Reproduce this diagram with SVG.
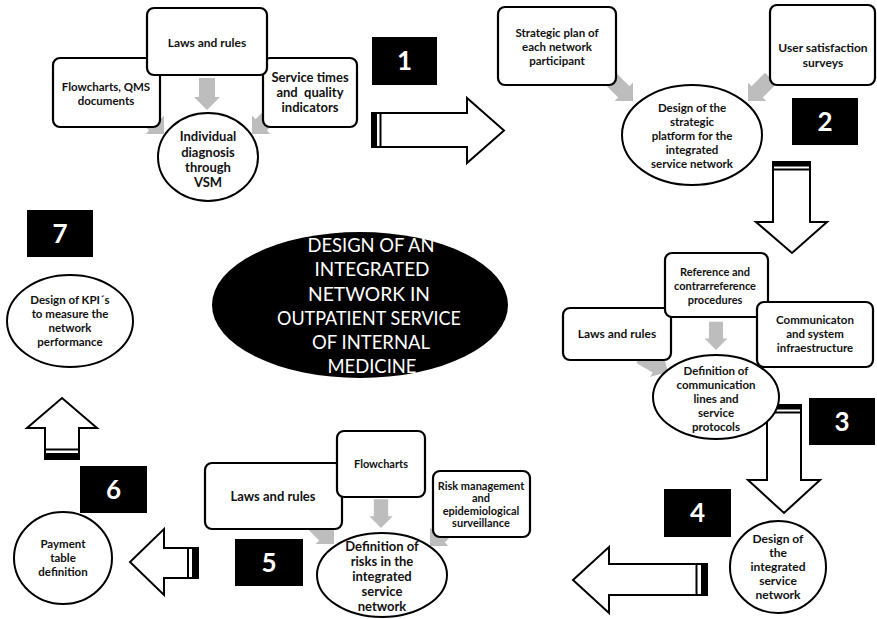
<svg xmlns="http://www.w3.org/2000/svg" xmlns:xlink="http://www.w3.org/1999/xlink" width="877" height="619" viewBox="0 0 877 619">
  <style>
    text { font-family: Lato, "Liberation Sans", Arial, sans-serif; font-weight: bold; fill: #111; text-anchor: middle; }
    .box { fill: #fff; stroke: #000; stroke-width: 2.2; }
    .oval { fill: #fff; stroke: #000; stroke-width: 2; }
    .badge { fill: #000; }
    .num { fill: #fff; font-size: 26px; }
    .big { fill: #fff; stroke: #000; stroke-width: 2; stroke-linejoin: miter; }
    .band { fill: #000; }
    .bandline { stroke: #000; stroke-width: 2; }
    .grey { fill: #bdbdbd; }
    .title { fill: #fff; font-size: 19px; font-weight: normal; }
  </style>
  <defs>
    <!-- small grey feed arrow, tip at origin, pointing down -->
    <path id="feed" class="grey" d="M-8,-32 H8 V-13 H13 L0,0 L-13,-13 H-8 Z"/>
  </defs>
  <rect width="877" height="619" fill="#fff"/>

  <g id="connectors">
    <!-- grey feed arrows (drawn beneath the boxes) -->
    <use xlink:href="#feed" transform="translate(207,110)"/>
    <use xlink:href="#feed" transform="translate(164,134) rotate(-45)"/>
    <use xlink:href="#feed" transform="translate(252,134) rotate(45)"/>
    <use xlink:href="#feed" transform="translate(633,101) rotate(-45)"/>
    <use xlink:href="#feed" transform="translate(748,101) rotate(45)"/>
    <use xlink:href="#feed" transform="translate(716,350) scale(0.88)"/>
    <use xlink:href="#feed" transform="translate(668,372) rotate(-60)"/>
    <use xlink:href="#feed" transform="translate(381,528) scale(0.9)"/>
    <use xlink:href="#feed" transform="translate(334,544) rotate(-45)"/>
    <use xlink:href="#feed" transform="translate(430,546) rotate(45)"/>

    <!-- step 1 -> 2 -->
    <path class="big" d="M372,113 H467 V98 L504,130.5 L467,163 V147 H372 Z"/>
    <rect class="band" x="372" y="113" width="5" height="34"/>
    <line class="bandline" x1="380.5" y1="113" x2="380.5" y2="147"/>
    <!-- step 2 -> 3 -->
    <path class="big" d="M773,162 H810 V222 H827 L792,253 L756,222 H773 Z"/>
    <rect class="band" x="773" y="162" width="37" height="4.5"/>
    <line class="bandline" x1="773" y1="169.5" x2="810" y2="169.5"/>
    <!-- step 3 -> 4 -->
    <path class="big" d="M767,405 H801 V480 H820 L784,513 L748,480 H767 Z"/>
    <rect class="band" x="767" y="405" width="34" height="4.5"/>
    <line class="bandline" x1="767" y1="412.5" x2="801" y2="412.5"/>
    <!-- step 4 -> 5 -->
    <path class="big" d="M707,564 V595 H609 V613 L573,580 L609,547 V564 Z"/>
    <rect class="band" x="701" y="564" width="6" height="31"/>
    <line class="bandline" x1="696.5" y1="564" x2="696.5" y2="595"/>
    <!-- step 5 -> 6 -->
    <path class="big" d="M198,548 V578 H164 V595 L130,562 L164,529 V548 Z"/>
    <rect class="band" x="192" y="548" width="6" height="30"/>
    <line class="bandline" x1="188" y1="548" x2="188" y2="578"/>
    <!-- step 6 -> 7 -->
    <path class="big" d="M45,459 H79 V428 H97 L62,398 L27,428 H45 Z"/>
    <rect class="band" x="45" y="453" width="34" height="6"/>
    <line class="bandline" x1="45" y1="449.5" x2="79" y2="449.5"/>
  </g>

  <!-- step 1 -->
  <g id="flowcharts-qms">
    <rect class="box" x="53" y="58" width="107" height="69" rx="7"/>
    <text font-size="11.5" x="106" y="91">Flowcharts, QMS</text>
    <text font-size="11.5" x="106" y="105">documents</text>
  </g>
  <g id="service-times">
    <rect class="box" x="263" y="58" width="94" height="69" rx="7"/>
    <text font-size="13" x="310" y="82">Service times</text>
    <text font-size="13" x="310" y="97" xml:space="preserve">and  quality</text>
    <text font-size="13" x="310" y="112">indicators</text>
  </g>
  <g id="laws-1">
    <rect class="box" x="147" y="8" width="120" height="67" rx="7"/>
    <text font-size="12" x="207" y="47">Laws and rules</text>
  </g>
  <g id="individual-diagnosis">
    <ellipse class="oval" cx="208" cy="157" rx="50" ry="44"/>
    <text font-size="13" x="208" y="141">Individual</text>
    <text font-size="13" x="208" y="157">diagnosis</text>
    <text font-size="13" x="208" y="172">through</text>
    <text font-size="13" x="208" y="187">VSM</text>
  </g>
  <g id="badge-1">
    <rect class="badge" x="372" y="37" width="65" height="48"/>
    <text class="num" x="404.5" y="70">1</text>
  </g>

  <!-- step 2 -->
  <g id="strategic-plan">
    <rect class="box" x="498" y="7" width="118" height="78" rx="7"/>
    <text font-size="11.5" x="557" y="37">Strategic plan of</text>
    <text font-size="11.5" x="557" y="51">each network</text>
    <text font-size="11.5" x="557" y="65">participant</text>
  </g>
  <g id="user-satisfaction">
    <rect class="box" x="770" y="5" width="105" height="80" rx="7"/>
    <text font-size="12" x="823" y="52">User satisfaction</text>
    <text font-size="12" x="823" y="67">surveys</text>
  </g>
  <g id="strategic-platform">
    <ellipse class="oval" cx="692" cy="135" rx="70" ry="50"/>
    <text font-size="11.5" x="692" y="112">Design of the</text>
    <text font-size="11.5" x="692" y="126">strategic</text>
    <text font-size="11.5" x="692" y="140">platform for the</text>
    <text font-size="11.5" x="692" y="154">integrated</text>
    <text font-size="11.5" x="692" y="168">service network</text>
  </g>
  <g id="badge-2">
    <rect class="badge" x="792" y="98" width="66" height="47"/>
    <text class="num" x="825" y="131">2</text>
  </g>

  <!-- central theme -->
  <g id="central-theme">
    <ellipse cx="360" cy="305" rx="148" ry="73" fill="#000"/>
    <text class="title" x="371" y="252" textLength="127" lengthAdjust="spacingAndGlyphs">DESIGN OF AN</text>
    <text class="title" x="372" y="276" textLength="115" lengthAdjust="spacingAndGlyphs">INTEGRATED</text>
    <text class="title" x="369" y="301" textLength="122" lengthAdjust="spacingAndGlyphs">NETWORK IN</text>
    <text class="title" x="369" y="325" textLength="184" lengthAdjust="spacingAndGlyphs">OUTPATIENT SERVICE</text>
    <text class="title" x="371" y="349" textLength="118" lengthAdjust="spacingAndGlyphs">OF INTERNAL</text>
    <text class="title" x="372" y="373" textLength="89" lengthAdjust="spacingAndGlyphs">MEDICINE</text>
  </g>

  <!-- step 3 -->
  <g id="laws-3">
    <rect class="box" x="563" y="308" width="108" height="52" rx="7"/>
    <text font-size="12" x="617" y="338">Laws and rules</text>
  </g>
  <g id="reference-procedures">
    <rect class="box" x="665" y="253" width="103" height="64" rx="7"/>
    <text font-size="11" x="715" y="276">Reference and</text>
    <text font-size="11" x="715" y="290">contrarreference</text>
    <text font-size="11" x="715" y="304">procedures</text>
  </g>
  <g id="communication-infrastructure">
    <rect class="box" x="757" y="302" width="116" height="65" rx="7"/>
    <text font-size="11.5" x="815" y="324">Communicaton</text>
    <text font-size="11.5" x="815" y="338">and system</text>
    <text font-size="11.5" x="815" y="352">infraestructure</text>
  </g>
  <g id="communication-lines">
    <ellipse class="oval" cx="716" cy="397" rx="63" ry="42"/>
    <text font-size="11.5" x="716" y="375">Definition of</text>
    <text font-size="11.5" x="716" y="389">communication</text>
    <text font-size="11.5" x="716" y="403">lines and</text>
    <text font-size="11.5" x="716" y="417">service</text>
    <text font-size="11.5" x="716" y="431">protocols</text>
  </g>
  <g id="badge-3">
    <rect class="badge" x="809" y="398" width="66" height="47"/>
    <text class="num" x="842" y="431">3</text>
  </g>

  <!-- step 4 -->
  <g id="badge-4">
    <rect class="badge" x="664" y="489" width="67" height="48"/>
    <text class="num" x="697.5" y="522">4</text>
  </g>
  <g id="integrated-network-design">
    <ellipse class="oval" cx="778" cy="567" rx="48" ry="46"/>
    <text font-size="12" x="778" y="543">Design of</text>
    <text font-size="12" x="778" y="557">the</text>
    <text font-size="12" x="778" y="571">integrated</text>
    <text font-size="12" x="778" y="585">service</text>
    <text font-size="12" x="778" y="599">network</text>
  </g>

  <!-- step 5 -->
  <g id="laws-5">
    <rect class="box" x="205" y="463" width="137" height="66" rx="7"/>
    <text font-size="13" x="273" y="501">Laws and rules</text>
  </g>
  <g id="flowcharts-5">
    <rect class="box" x="337" y="431" width="88" height="66" rx="7"/>
    <text font-size="11" x="381" y="468">Flowcharts</text>
  </g>
  <g id="risk-management">
    <rect class="box" x="433" y="471" width="97" height="66" rx="7"/>
    <text font-size="11" x="481" y="490">Risk management</text>
    <text font-size="11" x="481" y="502">and</text>
    <text font-size="11" x="481" y="515">epidemiological</text>
    <text font-size="11" x="481" y="527">surveillance</text>
  </g>
  <g id="risk-definition">
    <ellipse class="oval" cx="382" cy="575" rx="65" ry="42"/>
    <text font-size="13" x="382" y="551">Definition of</text>
    <text font-size="13" x="382" y="566">risks in the</text>
    <text font-size="13" x="382" y="581">integrated</text>
    <text font-size="13" x="382" y="596">service</text>
    <text font-size="13" x="382" y="611">network</text>
  </g>
  <g id="badge-5">
    <rect class="badge" x="235" y="539" width="68" height="47"/>
    <text class="num" x="269" y="572">5</text>
  </g>

  <!-- step 6 -->
  <g id="badge-6">
    <rect class="badge" x="80" y="466" width="67" height="47"/>
    <text class="num" x="113.5" y="499">6</text>
  </g>
  <g id="payment-table">
    <ellipse class="oval" cx="63" cy="558" rx="49" ry="46"/>
    <text font-size="11.5" x="63" y="548">Payment</text>
    <text font-size="11.5" x="63" y="562">table</text>
    <text font-size="11.5" x="63" y="576">definition</text>
  </g>

  <!-- step 7 -->
  <g id="badge-7">
    <rect class="badge" x="27" y="210" width="66" height="47"/>
    <text class="num" x="60" y="243">7</text>
  </g>
  <g id="kpi-design">
    <ellipse class="oval" cx="70" cy="321" rx="63" ry="46"/>
    <text font-size="11.5" x="70" y="304">Design of KPI´s</text>
    <text font-size="11.5" x="70" y="318">to measure the</text>
    <text font-size="11.5" x="70" y="332">network</text>
    <text font-size="11.5" x="70" y="346">performance</text>
  </g>
</svg>
